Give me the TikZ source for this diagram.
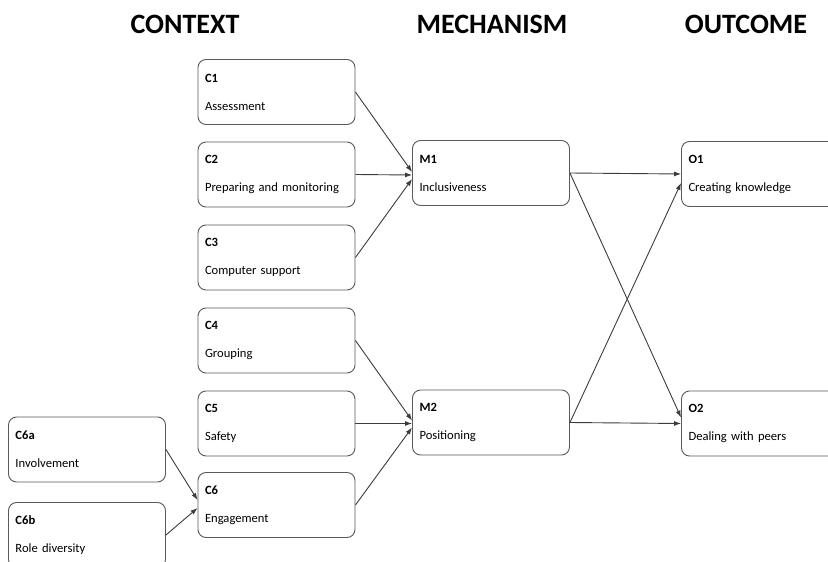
\documentclass[tikz,border=0pt]{standalone}
\usepackage{fontspec}
\setmainfont{Carlito}
\usepackage{tikz}
\usetikzlibrary{arrows.meta}
\definecolor{cmoline}{RGB}{60,60,60}
\definecolor{cmoedge}{RGB}{90,90,90}

\begin{document}
\begin{tikzpicture}[x=1pt, y=-1pt,
  cmobox/.style={draw=cmoedge, line width=0.9pt, rounded corners=8pt, rectangle,
    minimum width=157pt, minimum height=65pt, text width=143pt, align=left,
    font=\fontsize{12.6}{15}\selectfont},
  cmohead/.style={font=\fontsize{28}{32}\selectfont\bfseries},
  cmoarrow/.style={-{Latex[length=7pt,width=5pt]}, cmoline, line width=0.9pt}]
\clip (0,0) rectangle (828,562);
\fill[white] (0,0) rectangle (828,562);

% Headings
\node[cmohead] (hcontext) at (185,24) {CONTEXT};
\node[cmohead] (hmechanism) at (492,24) {MECHANISM};
\node[cmohead] (houtcome) at (746,24) {OUTCOME};

% Context
\node[cmobox] (c1) at (276.5,92) {\textbf{C1}\\[13pt]Assessment};
\node[cmobox] (c2) at (276.5,174.5) {\textbf{C2}\\[13pt]Preparing and monitoring};
\node[cmobox] (c3) at (276.5,257.5) {\textbf{C3}\\[13pt]Computer support};
\node[cmobox] (c4) at (276.5,340.5) {\textbf{C4}\\[13pt]Grouping};
\node[cmobox] (c5) at (276.5,423.5) {\textbf{C5}\\[13pt]Safety};
\node[cmobox] (c6) at (276.5,505) {\textbf{C6}\\[13pt]Engagement};
\node[cmobox] (c6a) at (87,449.5) {\textbf{C6a}\\[13pt]Involvement};
\node[cmobox] (c6b) at (87,535) {\textbf{C6b}\\[13pt]Role diversity};

% Mechanism
\node[cmobox] (m1) at (491,173) {\textbf{M1}\\[13pt]Inclusiveness};
\node[cmobox] (m2) at (491,422.5) {\textbf{M2}\\[13pt]Positioning};

% Outcome
\node[cmobox] (o1) at (760,174) {\textbf{O1}\\[13pt]Creating knowledge};
\node[cmobox] (o2) at (760,423.5) {\textbf{O2}\\[13pt]Dealing with peers};

% Context to mechanism
\draw[cmoarrow] (c1.east) -- ([yshift=1pt]m1.west);
\draw[cmoarrow] (c2.east) -- ([yshift=-2pt]m1.west);
\draw[cmoarrow] (c3.east) -- ([yshift=-6pt]m1.west);
\draw[cmoarrow] (c4.east) -- ([yshift=2pt]m2.west);
\draw[cmoarrow] (c5.east) -- ([yshift=-1pt]m2.west);
\draw[cmoarrow] (c6.east) -- ([yshift=-5pt]m2.west);
\draw[cmoarrow] (c6a.east) -- ([yshift=5pt]c6.west);
\draw[cmoarrow] (c6b.east) -- ([yshift=-3pt]c6.west);

% Mechanism to outcome
\draw[cmoarrow] (m1.east) -- (o1.west);
\draw[cmoarrow] (m1.east) -- ([yshift=6pt]o2.west);
\draw[cmoarrow] (m2.east) -- (o2.west);
\draw[cmoarrow] (m2.east) -- ([yshift=-9pt]o1.west);
\end{tikzpicture}
\end{document}
